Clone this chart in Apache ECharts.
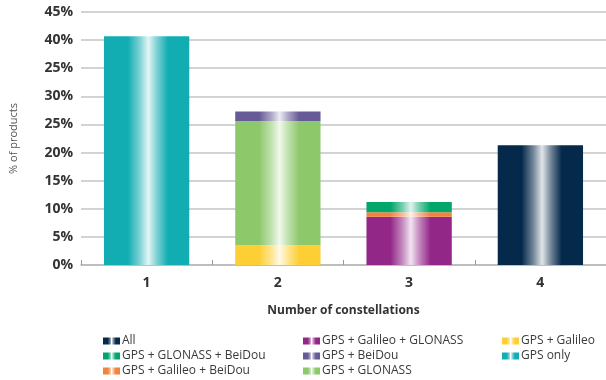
<!DOCTYPE html>
<html><head><meta charset="utf-8">
<script src="https://cdn.jsdelivr.net/npm/echarts@6/dist/echarts.min.js"></script>
<style>html,body{margin:0;padding:0;background:#fff}#c{width:606px;height:380px}</style>
</head><body><div id="c"></div>
<script>
const categories = ['1','2','3','4'];
const yTickLabels = ['0%','5%','10%','15%','20%','25%','30%','25%','40%','45%'];
// series in stacking order (bottom to top)
const seriesNames = ['GPS only','All','GPS + Galileo','GPS + GLONASS','GPS + BeiDou','GPS + Galileo + GLONASS','GPS + Galileo + BeiDou','GPS + GLONASS + BeiDou'];
const gpsOnly        = [40.7, '-', '-', '-'];
const allConst       = ['-', '-', '-', 21.3];
const gpsGalileo     = ['-', 3.5, '-', '-'];
const gpsGlonass     = ['-', 22.1, '-', '-'];
const gpsBeidou      = ['-', 1.7, '-', '-'];
const gpsGalGlo      = ['-', '-', 8.6, '-'];
const gpsGalBei      = ['-', '-', 0.8, '-'];
const gpsGloBei      = ['-', '-', 1.8, '-'];
const seriesValues = [gpsOnly, allConst, gpsGalileo, gpsGlonass, gpsBeidou, gpsGalGlo, gpsGalBei, gpsGloBei];
const seriesColors = ['#12adb2','#05294a','#fdcf35','#8dc86b','#675b97','#932788','#f5823c','#00a66a'];
const legendCols = [
  ['All','GPS + GLONASS + BeiDou','GPS + Galileo + BeiDou'],
  ['GPS + Galileo + GLONASS','GPS + BeiDou','GPS + GLONASS'],
  ['GPS + Galileo','GPS only']
];

function mix(hex, t){ // mix with white
  const r=parseInt(hex.substr(1,2),16), g=parseInt(hex.substr(3,2),16), b=parseInt(hex.substr(5,2),16);
  const f=v=>Math.round(v+(255-v)*t);
  return 'rgb('+f(r)+','+f(g)+','+f(b)+')';
}
function grad(c){
  return new echarts.graphic.LinearGradient(0,0,1,0,[
    {offset:0,color:c},{offset:0.28,color:c},{offset:0.42,color:mix(c,0.45)},
    {offset:0.52,color:mix(c,0.88)},{offset:0.62,color:mix(c,0.45)},{offset:0.75,color:c},{offset:1,color:c}
  ]);
}
const fontFam = '"Open Sans", "Liberation Sans", sans-serif';
const legendX = [103, 303, 502];
const legends = legendCols.map((d,i)=>({
  data:d, orient:'vertical', left:legendX[i], top:335, itemGap:3,
  itemWidth:17, itemHeight:7, icon:'path://M0,0h8v7h-8z M9,0h8v7h-8z',
  textStyle:{fontFamily:fontFam, fontSize:12, color:'#3a3a3a', padding:[0,0,0,-3]},
  padding:0, selectedMode:false
}));

const chart = echarts.init(document.getElementById('c'), null, {renderer:'canvas'});
chart.setOption({
  animation:false,
  grid:{left:78, top:12, width:530, height:253, containLabel:false},
  legend:legends,
  xAxis:{
    type:'category', data:categories,
    name:'Number of constellations', nameLocation:'middle', nameGap:40,
    nameTextStyle:{fontFamily:fontFam, fontSize:12, fontWeight:'bold', color:'#333'},
    axisLine:{show:true, lineStyle:{color:'#b8b8b8', width:1.5}},
    axisTick:{show:true, inside:true, length:5, lineStyle:{color:'#999'}},
    axisLabel:{fontFamily:fontFam, fontSize:14, fontWeight:'bold', color:'#333', margin:11}
  },
  yAxis:{
    type:'value', min:0, max:45, interval:5,
    name:'% of products', nameLocation:'middle', nameGap:62,
    nameTextStyle:{fontFamily:fontFam, fontSize:11, color:'#555'},
    axisLine:{show:false}, axisTick:{show:false},
    axisLabel:{fontFamily:fontFam, fontSize:14, fontWeight:'bold', color:'#333', margin:8,
      formatter:v=>yTickLabels[Math.round(v/5)]},
    splitLine:{lineStyle:{color:'#c4c4c6', width:1.5}}
  },
  series: seriesNames.map((n,i)=>({
    name:n, type:'bar', stack:'total', data:seriesValues[i],
    barWidth:'65%',
    itemStyle:{color:grad(seriesColors[i])}
  }))
});
</script></body></html>
